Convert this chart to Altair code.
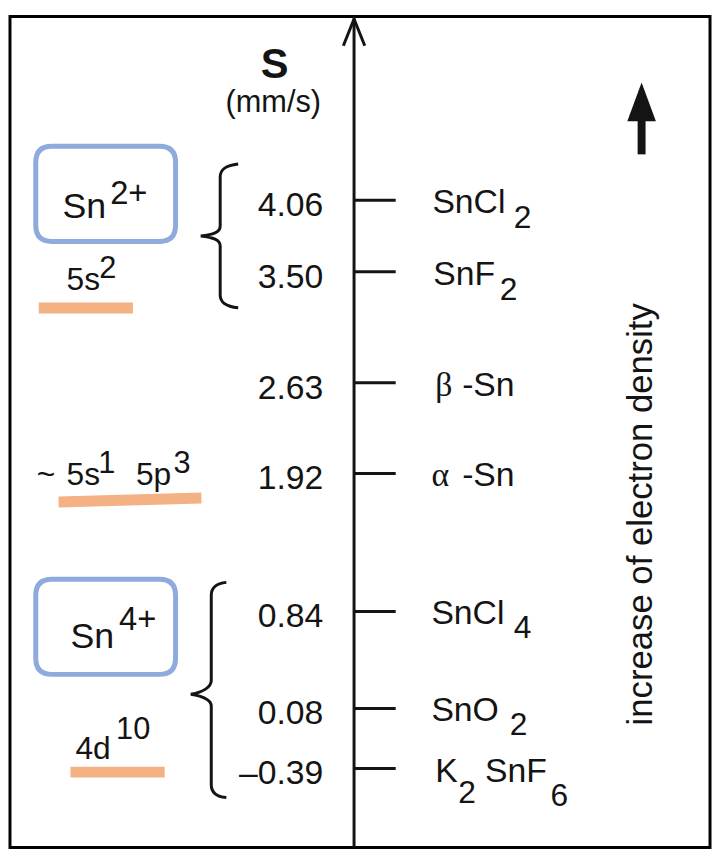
import altair as alt
import pandas as pd

# ------------------------------------------------------------------ data
S_VALUES = [4.06, 3.50, 2.63, 1.92, 0.84, 0.08, -0.39]
COMPOUNDS = [
    [("SnCl", "main"), ("2", "sub")],
    [("SnF", "main"), ("2", "sub")],
    [("β", "greek"), ("-Sn", "main")],
    [("α", "greek"), ("-Sn", "main")],
    [("SnCl", "main"), ("4", "sub")],
    [("SnO", "main"), ("2", "sub")],
    [("K", "main"), ("2", "sub"), ("SnF", "main"), ("6", "sub")],
]
GROUPS = [[4.06, 3.50], [0.84, 0.08, -0.39]]
IONS = [[("Sn", "main"), ("2+", "sup")], [("Sn", "main"), ("4+", "sup")]]
ION_LEVELS = [4.11, 0.72]
CONFIGS = [
    [("5s", "main"), ("2", "sup")],
    [("~", "main"), ("5s", "main"), ("1", "sup"), ("5p", "main"), ("3", "sup")],
    [("4d", "main"), ("10", "sup")],
]
CONFIG_LEVELS = [3.355, 1.833, -0.317]
AXIS_TITLE = "S"
AXIS_UNIT = "(mm/s)"
SIDE_NOTE = "increase of electron density"

# ------------------------------------------------------------------ layout
W, H = 706, 838
Y_MIN, Y_MAX = -1.008, 5.498
PX = H / (Y_MAX - Y_MIN)
INK = "#141414"
BLUE = "#8FAADC"
ORANGE = "#F4B183"
SANS = "Liberation Sans"
SERIF = "Liberation Serif"


def lvl(anchor, dpx):
    return anchor - dpx / PX


def Y():
    return alt.Y("S:Q", scale=alt.Scale(domain=[Y_MIN, Y_MAX], nice=False, zero=False), axis=None)


AXIS_X = 347
TICK_X2 = 389

COMPOUND_X = [[426, 508], [427, 494], [429, 456], [425, 456], [425, 508], [425, 504], [429, 452, 479, 545]]
COMPOUND_DY = [[13, 28], [13, 29], [13, 13], [13, 13], [13, 27], [13, 27], [14, 35, 14, 38]]
ION_X = [[53, 101], [61, 110]]
ION_DY = [[24, 10], [21, 3]]
CONFIG_X = [[57, 90], [27, 57, 89, 127, 165], [66, 107]]
CONFIG_DY = [[0, -12], [0, 0, -12, 0, -12], [0, -20]]
CONFIG_LINE = [(29, 124, 18, 18), (49, 193, 17.5, 13.5), (61, 156, 13, 13)]
SIZES = {"main": 34, "greek": 34, "sub": 32, "sup": 33}

frags = []
for i, parts in enumerate(COMPOUNDS):
    for j, (t, role) in enumerate(parts):
        frags.append(dict(text=t, S=lvl(S_VALUES[i], COMPOUND_DY[i][j]), px=COMPOUND_X[i][j],
                          fs=SIZES[role], font="serif" if role == "greek" else "sans"))
for i, parts in enumerate(IONS):
    for j, (t, role) in enumerate(parts):
        frags.append(dict(text=t, S=lvl(ION_LEVELS[i], ION_DY[i][j]), px=ION_X[i][j],
                          fs=36 if role == "main" else 33, font="sans"))
for i, parts in enumerate(CONFIGS):
    for j, (t, role) in enumerate(parts):
        fs = 32 if role == "main" else 31
        frags.append(dict(text=t, S=lvl(CONFIG_LEVELS[i], CONFIG_DY[i][j]), px=CONFIG_X[i][j],
                          fs=fs, font="sans"))
frag_df = pd.DataFrame(frags)

values_df = pd.DataFrame({
    "S": [lvl(v, 16) for v in S_VALUES],
    "label": [f"{v:.2f}".replace("-", "–") for v in S_VALUES],
})
ticks_df = pd.DataFrame({"S": S_VALUES})
lines_df = pd.DataFrame([
    dict(px=a, px2=b, S=lvl(CONFIG_LEVELS[i], d1), S2=lvl(CONFIG_LEVELS[i], d2))
    for i, (a, b, d1, d2) in enumerate(CONFIG_LINE)
])
ions_df = pd.DataFrame({"S": ION_LEVELS})
one = pd.DataFrame({"a": [0]})

BOX_PATH = ("M-0.77,-0.681L0.77,-0.681Q1,-0.681 1,-0.451L1,0.451Q1,0.681 0.77,0.681"
            "L-0.77,0.681Q-1,0.681 -1,0.451L-1,-0.451Q-1,-0.681 -0.77,-0.681Z")
BRACE1 = ("M0.25,-1C0.08,-0.98 0,-0.93 0,-0.82L0,-0.14C0,-0.05 -0.1,-0.02 -0.27,0"
          "C-0.1,0.02 0,0.05 0,0.14L0,0.82C0,0.93 0.08,0.98 0.25,1")
BRACE2 = ("M0.14,-1C0.04,-0.99 0,-0.95 0,-0.88L0,-0.09C0,-0.03 -0.07,0.02 -0.19,0.04"
          "C-0.07,0.06 0,0.09 0,0.15L0,0.88C0,0.95 0.04,0.99 0.14,1")
CHEVRON = "M-0.8,1L0,-1L0.8,1"
HEAD = "M0,-1L0.74,1L-0.74,1Z"

layers = []

# main vertical axis + arrowhead
layers.append(alt.Chart(one).mark_rule(color=INK, strokeWidth=3).encode(
    x=alt.value(AXIS_X), y=alt.value(2), y2=alt.value(H)))
layers.append(alt.Chart(one).mark_point(shape=CHEVRON, size=729, filled=False, opacity=1,
                                        stroke=INK, strokeWidth=3).encode(
    x=alt.value(AXIS_X), y=alt.value(16)))

# ticks
layers.append(alt.Chart(ticks_df).mark_rule(color=INK, strokeWidth=3).encode(
    x=alt.value(AXIS_X), x2=alt.value(TICK_X2), y=Y()))

# value labels
layers.append(alt.Chart(values_df).mark_text(align="right", baseline="alphabetic", font=SANS,
                                             fontSize=34, color=INK).encode(
    x=alt.value(316), y=Y(), text="label:N"))

# fragments (sans / serif)
for fam, fname in (("sans", SANS), ("serif", SERIF)):
    layers.append(alt.Chart(frag_df[frag_df.font == fam]).mark_text(
        align="left", baseline="alphabetic", font=fname, color=INK).encode(
        x=alt.X("px:Q", scale=None, axis=None), y=Y(), text="text:N",
        size=alt.Size("fs:Q", scale=None, legend=None)))

# braces
for grp, path, bx, hh in ((GROUPS[0], BRACE1, 212, 145), (GROUPS[1], BRACE2, 203, 217)):
    gdf = pd.DataFrame({"S": [(max(grp) + min(grp)) / 2]})
    layers.append(alt.Chart(gdf).mark_point(shape=path, size=hh * hh, filled=False, opacity=1,
                                            stroke=INK, strokeWidth=3).encode(
        x=alt.value(bx), y=Y()))

# ion boxes
layers.append(alt.Chart(ions_df).mark_point(shape=BOX_PATH, size=141 * 141, filled=False, opacity=1,
                                            stroke=BLUE, strokeWidth=5).encode(
    x=alt.value(96.5), y=Y()))

# orange underlines
layers.append(alt.Chart(lines_df).mark_rule(color=ORANGE, strokeWidth=11, strokeCap="butt").encode(
    x=alt.X("px:Q", scale=None, axis=None), x2="px2:Q", y=Y(), y2="S2:Q"))

# header
layers.append(alt.Chart(one).mark_text(text=AXIS_TITLE, font=SANS, fontWeight="bold", fontSize=42,
                                       align="center", baseline="alphabetic", color=INK).encode(
    x=alt.value(267), y=alt.value(62)))
layers.append(alt.Chart(one).mark_text(text=AXIS_UNIT, font=SANS, fontSize=31,
                                       align="center", baseline="alphabetic", color=INK).encode(
    x=alt.value(265.5), y=alt.value(96)))

# side note + thick arrow
layers.append(alt.Chart(one).mark_text(text=SIDE_NOTE, font=SANS, fontSize=35, angle=270,
                                       align="center", baseline="middle", color=INK).encode(
    x=alt.value(636), y=alt.value(502)))
layers.append(alt.Chart(one).mark_rule(color=INK, strokeWidth=8).encode(
    x=alt.value(637), y=alt.value(102), y2=alt.value(139)))
layers.append(alt.Chart(one).mark_point(shape=HEAD, size=39 * 39, filled=True, opacity=1,
                                        color=INK, strokeWidth=0).encode(
    x=alt.value(637), y=alt.value(86)))

chart = alt.layer(*layers).properties(
    width=W, height=H,
    padding={"left": 2, "top": 5, "right": 2, "bottom": 2},
    autosize=alt.AutoSizeParams(type="none"),
).configure_view(stroke="black", strokeWidth=3)

chart.save("out.html", embed_options={"renderer": "svg", "actions": False})
